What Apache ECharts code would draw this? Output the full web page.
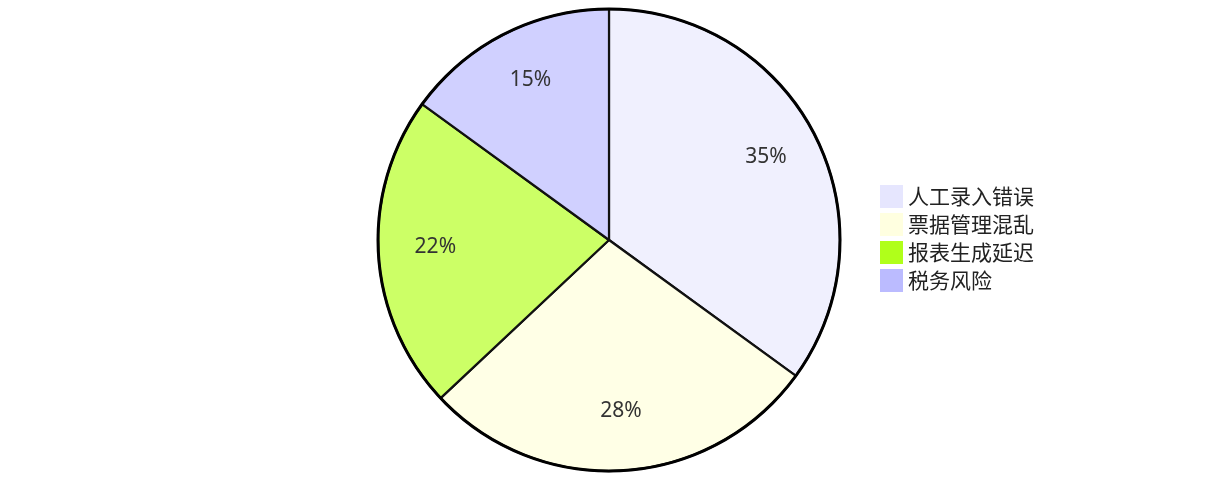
<!DOCTYPE html>
<html><head><meta charset="utf-8">
<script src="https://cdn.jsdelivr.net/npm/echarts@6/dist/echarts.min.js"></script>
<style>html,body{margin:0;padding:0;background:#fff}#c{width:1215px;height:498px}</style>
</head><body><div id="c"></div>
<script>
const categories = ['人工录入错误', '票据管理混乱', '报表生成延迟', '税务风险'];
const values = [35, 28, 22, 15];
const legendColors = ['#e6e6fe', '#ffffe0', '#b0ff1a', '#bbbbff'];
const sliceColors = ['#f0f0fe', '#ffffe6', '#ccff66', '#d0d0ff'];

const chart = echarts.init(document.getElementById('c'));
chart.setOption({
  animation: false,
  legend: {
    orient: 'vertical', left: 875, top: 180,
    icon: 'rect',
    itemWidth: 23, itemHeight: 23, itemGap: 5,
    textStyle: { fontSize: 21, lineHeight: 23, color: '#222', fontFamily: 'Noto Sans CJK SC' },
    data: categories.map((n, i) => ({ name: n, itemStyle: { color: legendColors[i], borderWidth: 0 } }))
  },
  series: [
    {
      type: 'pie', center: [609, 240], radius: 231, startAngle: 90, clockwise: true,
      itemStyle: { borderColor: '#111', borderWidth: 2.2 },
      label: { show: false }, labelLine: { show: false },
      emphasis: { disabled: true },
      data: categories.map((n, i) => ({ name: n, value: values[i], itemStyle: { color: sliceColors[i] } }))
    },
    {
      type: 'pie', center: [609, 240], radius: [113, 231], startAngle: 90, clockwise: true,
      silent: true, legendHoverLink: false,
      itemStyle: { color: 'rgba(0,0,0,0)', borderWidth: 0 },
      label: { show: true, position: 'inside', formatter: '{d}%', fontSize: 21, color: '#333', fontFamily: 'Noto Sans, sans-serif', offset: [1, -4] },
      labelLine: { show: false },
      emphasis: { disabled: true },
      data: categories.map((n, i) => ({ name: n + ' ', value: values[i] }))
    },
    {
      type: 'pie', center: [609, 240], radius: 231, silent: true,
      itemStyle: { color: 'rgba(0,0,0,0)', borderColor: '#000', borderWidth: 3 },
      label: { show: false }, labelLine: { show: false }, emphasis: { disabled: true },
      data: [{ name: '_ring', value: 1 }]
    }
  ]
});
</script></body></html>
